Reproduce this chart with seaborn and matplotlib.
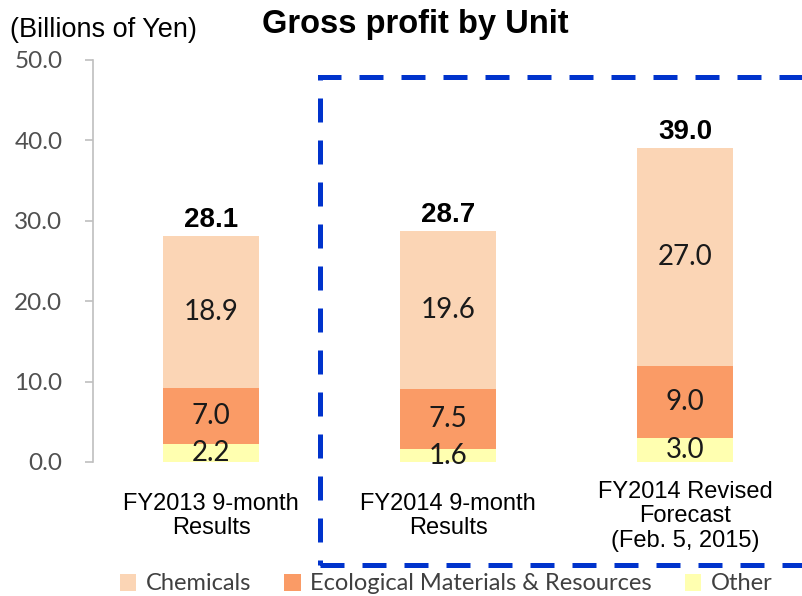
import matplotlib
matplotlib.use("Agg")
import matplotlib.pyplot as plt
import seaborn as sns
import pandas as pd
from matplotlib.patches import Rectangle, Patch

categories = ["FY2013 9-month\nResults", "FY2014 9-month\nResults", "FY2014 Revised\nForecast\n(Feb. 5, 2015)"]
other = [2.2, 1.6, 3.0]
ecological = [7.0, 7.5, 9.0]
chemicals = [18.9, 19.6, 27.0]
totals = [28.1, 28.7, 39.0]
series_names = ["Chemicals", "Ecological Materials & Resources", "Other"]
yticks = [0, 10, 20, 30, 40, 50]

c_chem = "#FBD5B5"
c_eco = "#FA9B66"
c_other = "#FFFFB0"

sns.set_style("white")
plt.rcParams["font.family"] = ["Liberation Sans", "DejaVu Sans"]

df = pd.DataFrame({
    "cat": categories,
    "other": other,
    "eco": ecological,
    "chem": chemicals,
})
df["lvl_other"] = df["other"]
df["lvl_eco"] = df["other"] + df["eco"]
df["lvl_chem"] = df["other"] + df["eco"] + df["chem"]

fig = plt.figure(figsize=(8.03, 5.96), dpi=100)
W, H = 803, 596
ax = fig.add_axes([93 / W, (H - 462) / H, 700 / W, (462 - 60) / H])

bw = 96 / 237
kw = dict(width=bw, ax=ax, saturation=1, errorbar=None, linewidth=0, edgecolor="none")
sns.barplot(data=df, x="cat", y="lvl_chem", color=c_chem, **kw)
sns.barplot(data=df, x="cat", y="lvl_eco", color=c_eco, **kw)
sns.barplot(data=df, x="cat", y="lvl_other", color=c_other, **kw)

ax.set_xlim(-0.498, -0.498 + 700 / 237)
ax.set_ylim(0, 50)
ax.set_yticks(yticks)
ax.set_yticklabels([f"{v:.1f}" for v in yticks], fontfamily="Lato", fontsize=17.5, color="#505050")
ax.set_xlabel("")
ax.set_ylabel("")

for s in ["top", "right", "bottom"]:
    ax.spines[s].set_visible(False)
ax.spines["left"].set_color("#BFBFBF")
ax.spines["left"].set_linewidth(1.2)
ax.tick_params(axis="y", which="both", left=True, length=6, width=1.2, color="#BFBFBF", pad=16)
ax.tick_params(axis="x", length=0, pad=39)
for lbl in ax.get_xticklabels():
    lbl.set_fontsize(17)
    lbl.set_va("center")
    lbl.set_linespacing(1.15)
    lbl.set_color("black")

lab_kw = dict(ha="center", va="center", fontfamily="Lato", fontsize=20, color="#1a1a1a")
for i in range(len(categories)):
    ax.text(i, other[i] / 2, f"{other[i]:.1f}", **lab_kw)
    ax.text(i, other[i] + ecological[i] / 2, f"{ecological[i]:.1f}", **lab_kw)
    ax.text(i, other[i] + ecological[i] + chemicals[i] / 2, f"{chemicals[i]:.1f}", **lab_kw)
    ax.annotate(f"{totals[i]:.1f}", xy=(i, totals[i]), xytext=(0, 2.5), textcoords="offset points",
                ha="center", va="bottom", fontsize=20, fontweight="bold", color="black")

fig.text(415 / W, 1 - 25 / H, "Gross profit by Unit", ha="center", va="center",
         fontsize=23.5, fontweight="bold", color="black")
fig.text(10 / W, 1 - 30 / H, "(Billions of Yen)", ha="left", va="center", fontsize=19.5, color="black")

rect = Rectangle((320 / W, 1 - 565 / H), (808 - 320) / W, (565 - 77) / H,
                 transform=fig.transFigure, fill=False, edgecolor="#0033CC",
                 linewidth=3.6, linestyle=(0, (4.8, 3.6)), clip_on=False)
fig.patches.append(rect)

handles = [Patch(facecolor=c, edgecolor="none") for c in [c_chem, c_eco, c_other]]
leg = fig.legend(handles, series_names, loc="center", bbox_to_anchor=(446 / W, 1 - 584 / H),
                 ncol=3, frameon=False, prop={"family": "Lato", "size": 17},
                 handlelength=0.7, handleheight=0.7, handletextpad=0.4, columnspacing=1.4,
                 borderaxespad=0, borderpad=0)
for t in leg.get_texts():
    t.set_color("#404040")

fig.savefig("out.png", dpi=100)
